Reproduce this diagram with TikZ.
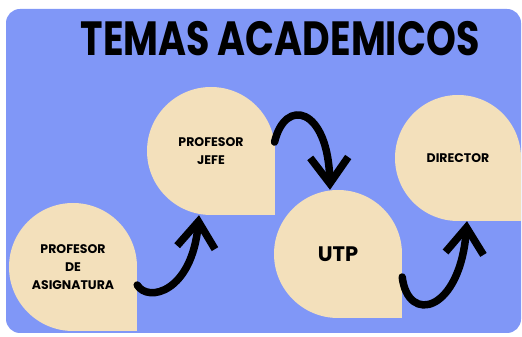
\documentclass[tikz,border=0pt]{standalone}
\usepackage{fontspec}
\setmainfont{Poppins}
\usetikzlibrary{arrows.meta,backgrounds}
\definecolor{fondo}{RGB}{128,151,247}
\definecolor{crema}{RGB}{243,224,187}

\begin{document}
\begin{tikzpicture}[x=1pt, y=1pt, >={Straight Barb[length=26pt,width=38pt]}]
    \tikzstyle{gota}=[circle, fill=crema, inner sep=0pt, minimum size=128pt, align=center, font=\fontsize{12.5}{18}\selectfont\bfseries]
    \tikzstyle{flecha}=[->, line width=7.5pt, line cap=round, line join=round]
    \useasboundingbox (0,0) rectangle (522,337);

    % Nodos
    \node[gota] (asig) at (73,70) {PROFESOR\\DE\\ASIGNATURA};
    \node[gota] (jefe) at (211,186) {PROFESOR\\JEFE};
    \node[gota, font=\fontsize{21}{21}\selectfont\bfseries] (utp) at (338,83) {UTP};
    \node[gota, minimum size=126pt] (dir) at (458,179) {DIRECTOR};
    \node[font=\fontsize{40}{40}\selectfont\bfseries] (titulo) at (280,298) {\scalebox{0.95}[1.2]{TEMAS ACADEMICOS}};

    % Fondo y esquinas rectas
    \begin{scope}[on background layer]
        \fill[fondo, rounded corners=14pt] (6,4) rectangle (521,328);
        \foreach \n in {asig,jefe,utp,dir}
            \fill[crema] (\n.center) rectangle (\n.south -| \n.east);
    \end{scope}

    % Flechas
    \draw[flecha] ([yshift=-18pt]asig.east) .. controls (148,34) and (192,45) .. ([xshift=-12pt]jefe.south);
    \draw[flecha] (jefe.8) .. controls (285,240) and (328,230) .. ([xshift=-8pt]utp.north);
    \draw[flecha] ([yshift=-23pt]utp.east) .. controls (408,12) and (460,25) .. ([xshift=9pt]dir.south);
\end{tikzpicture}
\end{document}
